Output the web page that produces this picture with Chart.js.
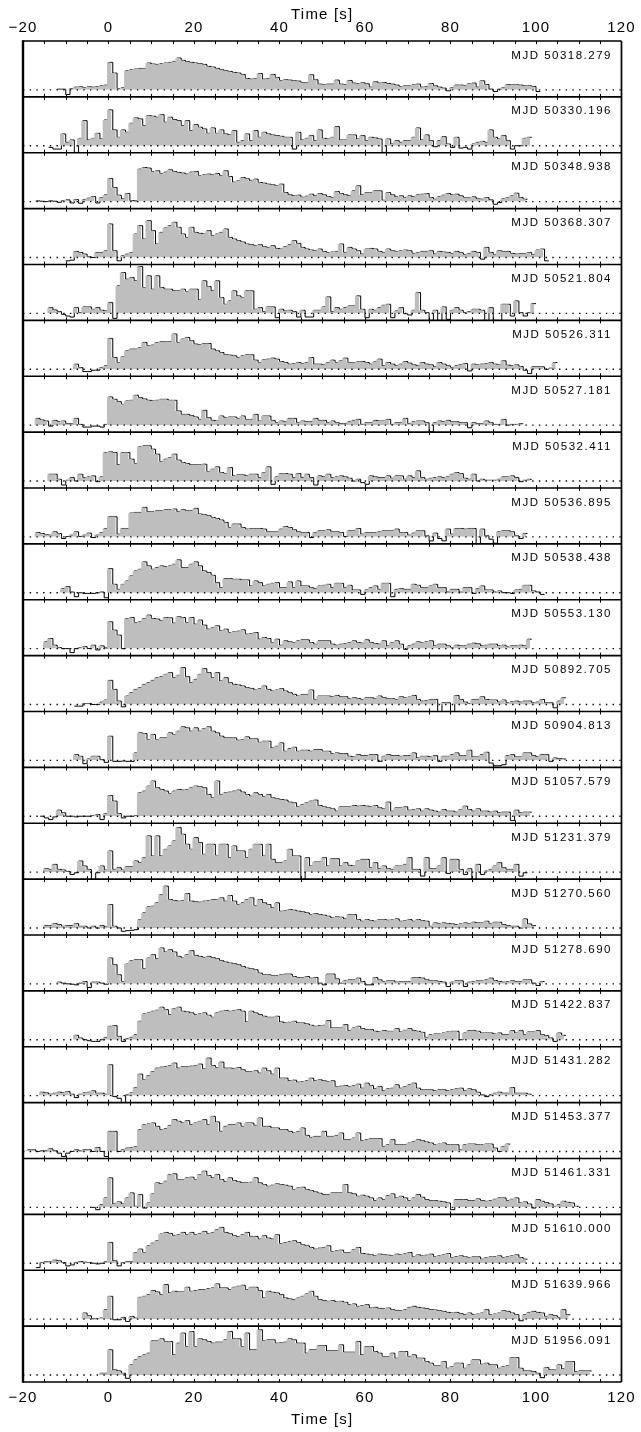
<!DOCTYPE html>
<html>
<head>
<meta charset="utf-8">
<script src="https://cdn.jsdelivr.net/npm/chart.js@4/dist/chart.umd.min.js"></script>
<style>
  html, body { margin: 0; padding: 0; background: #fff; }
  canvas { display: block; }
</style>
</head>
<body>
<canvas id="bursts" width="641" height="1432"></canvas>
<script>
// Burst epochs, one panel each, top to bottom
const mjdLabels = [
  'MJD 50318.279', 'MJD 50330.196', 'MJD 50348.938', 'MJD 50368.307',
  'MJD 50521.804', 'MJD 50526.311', 'MJD 50527.181', 'MJD 50532.411',
  'MJD 50536.895', 'MJD 50538.438', 'MJD 50553.130', 'MJD 50892.705',
  'MJD 50904.813', 'MJD 51057.579', 'MJD 51231.379', 'MJD 51270.560',
  'MJD 51278.690', 'MJD 51422.837', 'MJD 51431.282', 'MJD 51453.377',
  'MJD 51461.331', 'MJD 51610.000', 'MJD 51639.966', 'MJD 51956.091'
];

// Time [s] of the left edge of the first 1-s bin of each light curve
const binStarts = [-12, -14, -17, -10, -14, -8, -17, -14, -17, -11, -15, -8,
                   -8, -16, -15, -15, -12, -8, -16, -19, -4, -17, -6, -2];

// Background-subtracted count rate per 1-s bin (arbitrary units)
const burst01 = [2,2,-14,4,8,9,7,9,8,10,12,14,82,50,4,6,57,60,62,64,64,80,77,76,78,80,82,85,95,88,84,82,80,78,76,70,68,64,60,57,55,52,50,46,34,32,34,49,32,34,46,37,28,30,29,27,26,22,22,45,30,17,16,17,17,29,17,16,28,20,19,21,18,8,24,20,22,19,17,14,10,12,12,15,17,8,10,19,12,8,5,-3,6,14,14,13,18,20,8,27,16,2,-5,2,6,16,15,15,14,12,12,10,-5];
const burst02 = [-5,-10,-10,35,10,17,-20,22,75,17,22,37,20,77,107,47,25,47,40,67,83,80,60,90,88,85,93,70,85,78,75,60,75,45,63,55,50,37,53,37,47,35,32,45,10,15,35,15,45,25,40,35,32,30,28,25,25,-10,40,17,22,30,15,47,22,20,25,57,17,17,32,32,20,30,15,25,23,20,-20,20,5,15,10,15,15,25,53,17,32,15,-3,15,27,5,-5,25,-7,-5,-10,5,10,13,10,47,25,20,30,15,-10,0,0,22,25];
const burst03 = [2,1,0,2,1,-2,3,5,-4,6,-5,6,10,15,-4,12,20,69,42,19,8,24,3,2,97,102,100,90,92,84,88,95,90,87,85,82,88,90,78,80,82,80,84,77,92,75,58,62,72,68,62,67,57,55,52,50,47,52,27,20,17,19,13,16,22,17,24,20,15,12,30,24,20,17,32,47,20,27,27,32,32,4,27,20,14,17,12,17,14,20,22,24,12,7,14,19,24,20,22,17,12,12,14,8,7,12,5,-8,-3,8,12,17,25,12,7];
const burst04 = [-10,-8,18,15,10,2,0,15,15,20,100,20,-10,5,10,15,70,95,55,110,80,40,75,88,95,105,90,70,60,90,75,72,70,80,65,70,75,85,60,55,50,46,40,38,35,38,32,30,35,27,25,32,38,50,42,30,25,22,20,25,18,15,16,18,40,15,30,25,20,10,25,27,25,18,15,25,20,18,20,22,20,12,15,18,18,20,10,18,16,15,12,18,14,8,12,18,15,-5,30,15,8,20,18,18,12,10,12,12,15,8,22,25,-10];
const burst05 = [17,10,5,-3,-8,-11,17,2,19,19,12,17,9,7,32,-15,82,122,102,107,97,140,77,112,72,112,77,72,72,67,67,72,65,72,72,40,97,80,67,97,47,27,37,67,52,47,67,67,12,17,5,19,19,-13,12,7,9,5,-11,9,-11,-11,9,9,19,49,5,17,12,17,22,22,52,12,-13,12,9,17,24,27,-13,7,17,-1,-5,9,62,9,2,-21,9,-21,19,-18,9,17,9,2,5,12,12,9,-21,17,-21,-21,27,27,-8,37,2,-8,2,29];
const burst06 = [15,5,-7,-7,-3,-3,5,10,92,35,20,37,55,60,60,65,80,70,72,80,82,82,83,105,80,90,95,85,75,73,77,77,60,55,50,43,42,40,35,40,43,43,27,20,28,30,33,30,23,20,15,17,20,17,20,35,15,15,13,20,27,20,25,33,20,20,22,23,20,15,22,30,10,20,15,10,15,23,18,13,10,20,15,13,7,20,15,10,5,10,14,17,-5,15,13,15,17,20,15,13,25,12,10,13,8,-3,-13,7,7,7,0,3,20];
const burst07 = [20,15,12,-3,14,10,12,4,4,20,2,-6,-6,-3,-3,-6,2,84,77,70,62,72,74,89,82,78,74,72,74,77,77,74,74,42,32,32,28,24,17,44,22,14,12,27,22,24,24,20,27,17,17,32,12,27,27,14,7,12,10,20,20,7,12,10,10,20,14,14,7,12,7,4,4,10,14,17,2,7,7,14,12,12,17,2,7,7,20,4,10,12,12,7,-20,7,12,10,14,10,10,7,7,-8,7,4,4,12,7,2,2,17,0,2,2,4];
const burst08 = [20,20,5,-12,2,10,0,20,10,12,15,-2,12,85,87,85,48,85,85,65,52,102,105,105,95,80,58,65,70,80,62,55,52,48,48,48,50,28,35,42,25,22,40,15,18,18,15,20,20,10,25,42,-10,12,22,22,20,10,22,10,20,10,-12,15,12,20,10,12,15,12,8,0,5,-5,-10,15,12,10,10,15,8,15,15,5,15,10,30,10,5,8,10,12,10,12,20,25,22,8,5,20,0,5,2,2,2,5,12,12,15,10,-2,2,5];
const burst09 = [13,10,6,5,15,10,-5,1,5,15,1,5,11,-2,5,13,25,60,60,8,25,25,71,73,73,88,75,75,78,78,81,81,83,75,81,78,78,85,68,66,63,58,55,50,43,28,38,38,28,23,25,25,25,23,15,15,15,23,31,28,21,15,13,13,-2,13,18,18,21,15,15,13,1,18,18,25,8,13,13,13,15,18,18,18,23,13,13,5,11,18,18,3,-12,11,-5,-12,23,8,25,25,23,25,25,-22,23,3,-7,-19,15,18,18,15,3,-5,10];
const burst10 = [12,18,2,-12,0,-2,-2,-2,0,2,-15,72,25,10,25,35,50,65,70,92,80,70,75,80,78,80,85,98,75,75,85,92,80,65,60,52,30,15,42,42,40,40,38,38,20,35,30,20,25,28,30,15,15,32,15,35,20,20,15,12,20,22,25,15,28,28,15,22,8,8,-5,8,15,20,10,28,28,-12,10,12,10,10,25,22,15,15,20,25,15,15,2,10,10,2,15,15,-2,12,20,8,8,2,5,0,0,-2,8,10,22,22,5,2,-5];
const burst11 = [20,30,10,3,0,0,-12,0,3,6,0,10,-4,8,2,80,55,40,0,90,93,78,80,90,100,90,88,83,93,92,76,95,93,78,93,73,85,70,58,62,68,53,58,48,50,52,56,43,45,48,28,33,30,18,28,10,23,20,18,23,26,26,18,13,23,23,23,13,10,13,15,18,23,18,16,26,18,15,13,23,8,18,23,13,-2,8,13,20,18,20,23,8,13,13,8,3,10,8,8,13,16,14,8,10,13,13,8,10,6,8,8,10,8,28];
const burst12 = [-5,-5,3,3,0,0,7,13,72,45,10,-7,25,35,45,50,60,65,72,80,83,90,95,80,87,110,83,65,75,90,107,95,80,95,70,80,65,60,58,55,50,48,43,47,55,45,40,43,47,40,35,30,25,30,30,43,15,25,25,25,23,27,23,23,17,20,18,15,20,20,17,25,20,17,17,15,23,20,22,27,15,10,12,15,15,-25,5,5,-25,27,15,7,3,15,15,23,15,13,13,7,13,5,8,10,7,10,10,5,7,15,5,5,-10,10,20];
const burst13 = [17,12,-10,4,12,12,2,-6,72,-3,-3,-2,-3,-3,22,82,80,62,77,62,67,67,82,77,87,100,97,87,97,87,95,100,87,82,72,67,67,67,60,62,70,64,64,54,57,57,37,42,52,27,35,39,27,30,30,27,32,32,27,27,20,22,20,20,12,10,17,14,14,17,17,-3,12,17,14,14,12,14,14,22,7,12,12,10,14,-3,12,12,17,22,14,14,30,10,10,17,24,-8,-16,-16,-13,14,17,10,10,22,22,14,10,17,17,-3,7,5,4];
const burst14 = [0,-5,-10,-2,18,10,0,0,-2,0,0,0,2,5,-10,8,62,45,8,-5,0,0,2,70,75,90,105,85,80,75,68,75,80,78,80,85,90,88,85,65,55,105,65,70,72,75,78,72,65,60,70,65,58,65,55,52,50,48,42,40,28,35,40,45,48,32,28,25,22,15,28,28,28,32,30,32,30,28,32,25,22,42,15,25,25,28,18,20,22,15,22,18,15,12,20,15,15,12,20,30,20,15,22,15,15,12,15,10,12,12,-13,18,10,12,12];
const burst15 = [10,8,23,8,6,2,-7,-2,33,18,8,-22,-2,18,6,63,8,13,6,16,16,33,28,43,108,48,108,48,68,78,93,133,113,83,68,103,88,53,83,83,50,83,83,43,78,63,63,43,68,83,83,48,83,38,28,28,33,68,48,48,-22,43,18,30,30,43,18,40,40,18,28,20,18,33,38,38,13,28,10,18,10,8,18,18,23,43,8,8,-12,43,10,10,18,43,-4,38,38,8,-7,10,-22,23,-7,3,8,18,28,13,8,8,23,-12,-2];
const burst16 = [7,7,13,10,5,7,7,13,5,5,0,5,0,7,3,70,5,0,-10,-8,-7,-5,25,45,63,65,75,100,125,85,82,80,82,103,80,78,77,80,82,85,84,90,80,97,80,70,75,85,90,67,85,75,70,60,75,50,52,55,53,50,48,45,40,43,40,38,35,30,33,32,27,40,40,25,20,25,22,20,25,25,23,24,27,20,22,25,20,25,22,20,5,15,13,15,13,12,10,12,15,13,17,15,15,20,13,17,17,10,7,5,5,0,27,12,7];
const burst17 = [5,2,0,-1,-3,2,7,-11,5,5,2,-1,77,57,27,7,59,69,72,72,45,77,87,75,107,95,102,95,82,77,87,99,85,82,79,82,78,75,69,65,62,60,57,52,47,45,42,32,27,27,25,25,27,29,29,22,19,19,22,17,19,2,-3,29,29,15,2,9,12,12,17,7,-3,-3,19,12,7,9,9,5,7,7,7,19,19,17,12,9,9,7,5,-8,5,9,9,-8,5,7,9,9,12,17,10,7,5,7,9,7,7,12,12,2,-5,7];
const burst18 = [13,5,0,-3,-5,-5,0,7,40,42,10,-5,3,7,15,55,77,80,85,88,97,90,75,93,97,85,83,80,75,77,80,73,67,80,85,87,85,87,90,85,53,85,80,75,70,67,67,70,53,50,52,55,50,50,47,43,40,42,43,57,35,35,35,45,27,35,40,33,30,30,25,23,27,25,25,33,23,28,33,27,25,22,7,15,17,17,20,23,25,25,0,20,27,27,25,20,20,20,17,20,15,15,27,20,27,15,23,23,27,15,12,5,-5,20,13];
const burst19 = [10,8,4,7,10,8,12,4,-6,4,8,10,14,7,7,4,92,-3,-8,-23,2,8,24,64,47,60,72,82,85,87,90,97,82,87,87,88,90,94,80,112,90,84,100,82,82,80,84,77,72,72,74,67,82,74,64,82,52,52,44,46,40,42,44,52,44,47,44,42,44,27,28,30,27,30,34,22,37,30,20,27,14,20,22,32,22,27,32,37,22,17,17,17,14,17,17,14,17,20,22,14,20,17,10,2,-3,2,7,10,7,7,24,7,7,7,4];
const burst20 = [5,5,0,2,2,8,2,-5,-15,-5,0,5,2,5,5,0,12,0,-15,60,60,0,5,10,12,15,65,80,82,85,75,65,68,78,95,90,85,92,80,85,90,95,80,105,88,60,75,80,80,85,75,85,85,78,100,75,75,70,70,65,65,60,55,60,70,48,42,45,45,60,45,45,48,55,35,35,40,55,32,35,38,38,38,15,20,35,20,20,20,25,30,35,32,28,25,20,22,25,20,20,20,5,20,22,22,20,20,22,22,10,0,15,22];
const burst21 = [0,-7,8,28,88,10,16,10,28,43,3,38,-2,13,40,73,70,78,98,100,83,83,88,90,83,98,108,95,88,98,83,76,88,80,76,73,73,75,88,73,68,63,66,70,68,66,63,53,58,60,53,50,46,42,38,38,43,43,43,68,43,40,33,36,33,28,20,28,23,35,40,28,33,28,20,28,38,30,23,20,20,18,16,13,-7,23,23,23,20,20,25,20,18,20,24,28,28,20,24,28,13,16,10,-2,23,18,14,10,3,8,18,15,13,3];
const burst22 = [-13,2,5,5,9,7,2,-8,-5,2,5,3,2,0,-2,0,5,62,7,-8,2,5,5,32,42,32,52,60,67,87,92,89,82,85,92,85,92,85,89,95,88,92,100,107,92,88,82,79,85,92,80,80,72,82,75,72,85,59,62,65,67,62,55,52,47,42,45,47,52,35,37,39,32,32,40,47,29,27,25,22,27,25,24,22,27,25,28,32,19,25,22,24,27,19,22,25,29,17,20,22,19,17,19,19,12,17,19,20,22,17,20,22,25,17,12];
const burst23 = [18,10,1,2,3,28,68,-2,-2,5,-7,8,3,65,68,73,85,81,73,103,78,83,81,81,95,83,85,88,88,91,93,105,93,93,88,95,98,101,88,95,95,85,63,83,80,78,73,63,60,58,63,68,75,83,68,58,55,53,55,51,53,50,43,45,38,40,43,33,35,32,31,33,28,26,25,28,35,38,35,33,31,28,27,25,23,20,18,20,16,13,18,13,15,18,28,13,15,18,25,23,18,13,-5,13,20,23,20,18,8,13,10,5,28,13];
const burst24 = [5,5,75,15,12,5,-10,30,45,55,60,65,102,102,108,100,100,60,95,125,85,130,85,108,105,100,95,98,98,105,130,108,108,85,125,75,75,135,102,105,105,95,97,98,108,105,95,95,65,75,75,88,88,72,72,72,90,68,68,68,100,60,85,85,70,65,55,55,65,50,70,70,55,60,50,50,40,35,28,28,40,20,25,35,35,20,30,45,45,32,35,30,30,20,25,28,52,52,20,12,12,10,5,-8,22,15,15,30,18,40,40,10,12,12,12];

// Axis values
const timeTicks = [-20, 0, 20, 40, 60, 80, 100, 120];
const timeRange = [-20, 120];
const rateRange = [-21, 146];
const minorStep = 5;
const BIN = 1;

const bursts = [burst01, burst02, burst03, burst04, burst05, burst06, burst07, burst08,
                burst09, burst10, burst11, burst12, burst13, burst14, burst15, burst16,
                burst17, burst18, burst19, burst20, burst21, burst22, burst23, burst24];
const N = bursts.length;

const FONT = "'Liberation Sans', Arial, Helvetica, sans-serif";
const GREY = '#bebebe';
const FILL_SHIFT = 0.35;  // grey histogram drawn a little ahead of its outline

// Stepped points: one per bin edge, the last one closing the final bin
function histPoints(values, start, shift) {
  const pts = values.map((y, i) => ({ x: start + i * BIN - shift, y }));
  pts.push({ x: start + values.length * BIN - shift, y: values[values.length - 1] });
  return pts;
}

const datasets = [];
bursts.forEach((vals, k) => {
  const yId = 'y' + k;
  datasets.push({
    label: 'zero ' + k, xAxisID: 'x', yAxisID: yId, order: 0,
    data: [{ x: timeRange[0], y: 0 }, { x: timeRange[1], y: 0 }],
    borderColor: '#000', borderWidth: 1.4, borderDash: [1.4, 5.3],
    pointRadius: 0, fill: false
  });
  datasets.push({
    label: 'rate fill ' + k, xAxisID: 'x', yAxisID: yId, order: 1,
    data: histPoints(vals, binStarts[k], FILL_SHIFT),
    stepped: true, borderWidth: 0, borderColor: 'rgba(0,0,0,0)', pointRadius: 0,
    fill: { target: { value: 0 }, above: GREY, below: 'rgba(0,0,0,0)' }
  });
  datasets.push({
    label: 'rate ' + k, xAxisID: 'x', yAxisID: yId, order: 2,
    data: histPoints(vals, binStarts[k], 0),
    stepped: true, borderWidth: 1, borderColor: '#000', pointRadius: 0, fill: false
  });
});

const tickLabel = v => (v < 0 ? '\u2212' + Math.abs(v) : String(v));

function timeAxis(position, height, tickPad, titlePad) {
  return {
    type: 'linear', position, min: timeRange[0], max: timeRange[1],
    afterBuildTicks: s => { s.ticks = timeTicks.map(value => ({ value })); },
    afterFit: s => { s.height = height; },
    grid: { display: false, drawTicks: false },
    border: { display: false },
    ticks: { callback: tickLabel, color: '#000', font: { family: FONT, size: 15 },
             padding: tickPad, maxRotation: 0, autoSkip: false },
    title: { display: true, text: 'Time [s]', color: '#000',
             font: { family: FONT, size: 15 }, padding: titlePad }
  };
}

const scales = {
  x: timeAxis('bottom', 50, 7, { top: 0, bottom: 3 }),
  xTop: timeAxis('top', 41, 4, { top: 6, bottom: 0 })
};
// Panels share one column; the last scale defined is placed at the top
for (let k = N - 1; k >= 0; k--) {
  scales['y' + k] = {
    type: 'linear', position: 'left', stack: 'panels', stackWeight: 1,
    min: rateRange[0], max: rateRange[1],
    afterFit: s => { s.width = 23; },
    grid: { display: false, drawTicks: false },
    border: { display: false },
    ticks: { display: false }
  };
}

// Slightly spaced lettering for the axis text
const spacingPlugin = {
  id: 'axisLetterSpacing',
  beforeDraw(chart) { if ('letterSpacing' in chart.ctx) chart.ctx.letterSpacing = '1.2px'; },
  afterDraw(chart) { if ('letterSpacing' in chart.ctx) chart.ctx.letterSpacing = '0px'; }
};

// Panel frames, inward tick marks and epoch labels
const framePlugin = {
  id: 'panelFrame',
  afterDraw(chart) {
    const { ctx, chartArea: a, scales: sc } = chart;
    const xs = sc.x;
    ctx.save();
    ctx.strokeStyle = '#000';
    ctx.fillStyle = '#000';

    // inward ticks on the top and bottom edge of every panel
    ctx.lineWidth = 1;
    ctx.beginPath();
    for (let k = 0; k < N; k++) {
      const ys = sc['y' + k];
      for (let v = timeRange[0] + minorStep; v < timeRange[1]; v += minorStep) {
        const px = Math.round(xs.getPixelForValue(v)) + 0.5;
        ctx.moveTo(px, ys.top); ctx.lineTo(px, ys.top + 3);
        ctx.moveTo(px, ys.bottom); ctx.lineTo(px, ys.bottom - 3);
      }
    }
    ctx.stroke();

    // separators between panels and the outer frame
    ctx.lineWidth = 1.7;
    ctx.beginPath();
    for (let k = 1; k < N; k++) {
      const y = sc['y' + k].top;
      ctx.moveTo(a.left, y); ctx.lineTo(a.right, y);
    }
    ctx.moveTo(a.left, a.top); ctx.lineTo(a.right, a.top);
    ctx.moveTo(a.left, a.bottom); ctx.lineTo(a.right, a.bottom);
    ctx.moveTo(a.right, a.top); ctx.lineTo(a.right, a.bottom);
    ctx.stroke();
    ctx.lineWidth = 2.4;
    ctx.beginPath();
    ctx.moveTo(a.left, a.top - 0.8); ctx.lineTo(a.left, a.bottom + 0.8);
    ctx.stroke();

    // epoch labels
    ctx.font = '11.5px ' + FONT;
    ctx.textAlign = 'right';
    ctx.textBaseline = 'alphabetic';
    if ('letterSpacing' in ctx) ctx.letterSpacing = '1.5px';
    for (let k = 0; k < N; k++) {
      const ys = sc['y' + k];
      ctx.fillText(mjdLabels[k], a.right - 9.5, ys.top + 17.5);
    }
    ctx.restore();
  }
};

new Chart(document.getElementById('bursts'), {
  type: 'line',
  data: { datasets },
  options: {
    responsive: false,
    animation: false,
    events: [],
    layout: { padding: { left: 0, right: 15, top: 0, bottom: 0 } },
    elements: { line: { tension: 0 } },
    plugins: { legend: { display: false }, tooltip: { enabled: false } },
    scales
  },
  plugins: [spacingPlugin, framePlugin]
});
</script>
</body>
</html>
